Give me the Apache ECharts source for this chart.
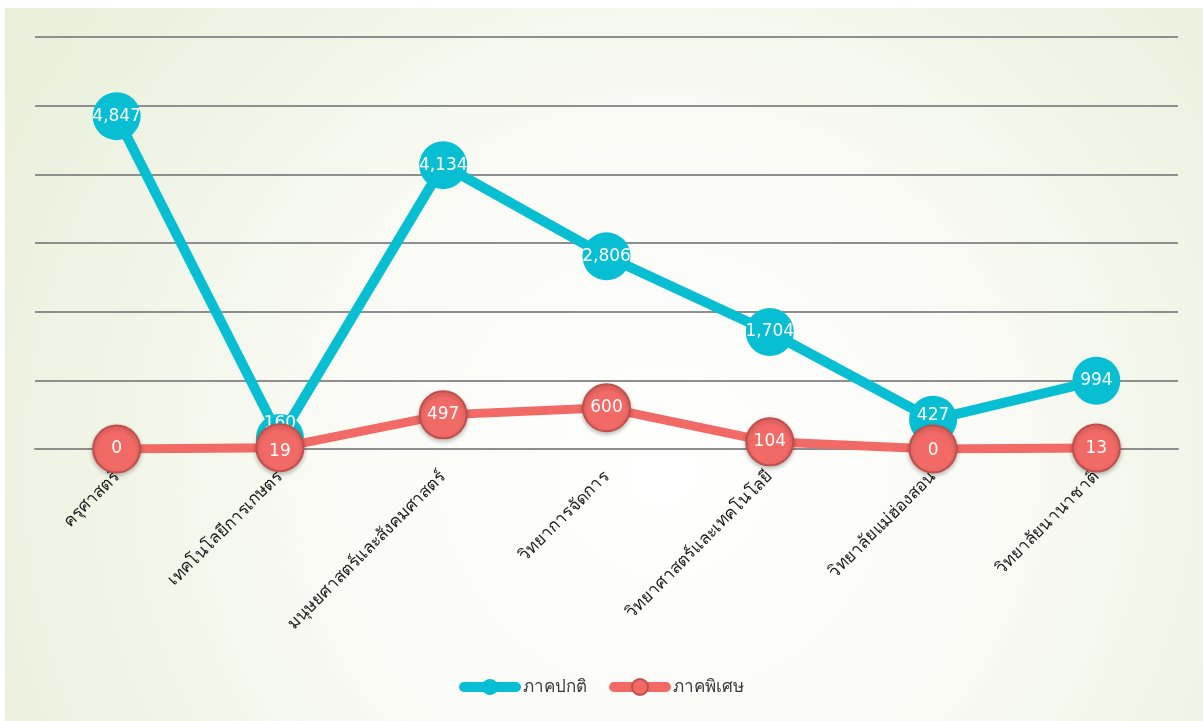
<!DOCTYPE html>
<html>
<head>
<meta charset="utf-8">
<script src="https://cdn.jsdelivr.net/npm/echarts@6/dist/echarts.min.js"></script>
<style>
html,body{margin:0;padding:0;background:#ffffff;}
#main{width:1203px;height:721px;}
</style>
</head>
<body>
<div id="main"></div>
<script>
const categories = ['ครุศาสตร์','เทคโนโลยีการเกษตร','มนุษยศาสตร์และสังคมศาสตร์','วิทยาการจัดการ','วิทยาศาสตร์และเทคโนโลยี','วิทยาลัยแม่ฮ่องสอน','วิทยาลัยนานาชาติ'];
const regularName = 'ภาคปกติ';
const specialName = 'ภาคพิเศษ';
const regularValues = [4847, 160, 4134, 2806, 1704, 427, 994];
const specialValues = [0, 19, 497, 600, 104, 0, 13];
const yTicks = [0, 1000, 2000, 3000, 4000, 5000, 6000];

// label nudges for overlapping points (index -> offset)
const regularLabelOffset = {1: [0, -14], 5: [0, -4]};
const specialLabelOffset = {1: [0, 4], 5: [0, 2]};

const fmt = v => v.toLocaleString('en-US');
const mk = (vals, offs) => vals.map((v, i) => offs[i] ? {value: v, label: {offset: offs[i]}} : v);

const chart = echarts.init(document.getElementById('main'));
const gridColor = '#8e8e8e';
const thaiFont = 'Tahoma, "Noto Sans", sans-serif';
chart.setOption({
  animation: false,
  graphic: [{
    type: 'rect', z: -10, silent: true,
    shape: {x: 5, y: 8, width: 1198, height: 713},
    style: {fill: {type: 'radial', x: 0.55, y: 0.65, r: 1.1,
      colorStops: [{offset: 0, color: '#ffffff'}, {offset: 0.4, color: '#fafbf6'}, {offset: 1, color: '#e8efd9'}]}}
  }],
  grid: {left: 35, right: 25, top: 37, bottom: 272, containLabel: false},
  legend: {
    bottom: 20, left: 'center',
    itemWidth: 52, itemHeight: 20, itemGap: 22,
    lineStyle: {width: 10, cap: 'round'},
    textStyle: {fontSize: 17, color: '#3a3a3a', fontFamily: thaiFont, padding: [0,0,0,2]},
    data: [regularName, specialName]
  },
  xAxis: {
    type: 'category', data: categories, boundaryGap: true,
    axisLine: {show: true, lineStyle: {color: gridColor, width: 2}},
    axisTick: {show: false},
    axisLabel: {rotate: 45, fontSize: 17, color: '#1a1a1a', margin: 25, interval: 0,
      fontFamily: thaiFont}
  },
  yAxis: {
    type: 'value', min: yTicks[0], max: yTicks[yTicks.length - 1], interval: yTicks[1] - yTicks[0],
    axisLine: {show: false}, axisTick: {show: false}, axisLabel: {show: false},
    splitLine: {show: true, lineStyle: {color: gridColor, width: 2}}
  },
  series: [{
    name: regularName, type: 'line', data: mk(regularValues, regularLabelOffset),
    symbol: 'circle', symbolSize: 48,
    itemStyle: {color: '#07bed2'},
    lineStyle: {color: '#07bed2', width: 10},
    label: {show: true, position: 'inside', color: '#fff', fontSize: 17,
      fontFamily: 'Verdana, "DejaVu Sans", sans-serif', formatter: p => fmt(p.value)},
    z: 2
  }, {
    name: specialName, type: 'line', data: mk(specialValues, specialLabelOffset),
    symbol: 'circle', symbolSize: 47,
    itemStyle: {color: '#f26a65', borderColor: '#c0504d', borderWidth: 2,
      shadowColor: 'rgba(0,0,0,0.25)', shadowBlur: 4, shadowOffsetY: 2},
    lineStyle: {color: '#f26a65', width: 9, shadowBlur: 0},
    label: {show: true, position: 'inside', color: '#fff', fontSize: 17,
      fontFamily: 'Verdana, "DejaVu Sans", sans-serif', formatter: p => fmt(p.value)},
    z: 3
  }]
});
</script>
</body>
</html>
